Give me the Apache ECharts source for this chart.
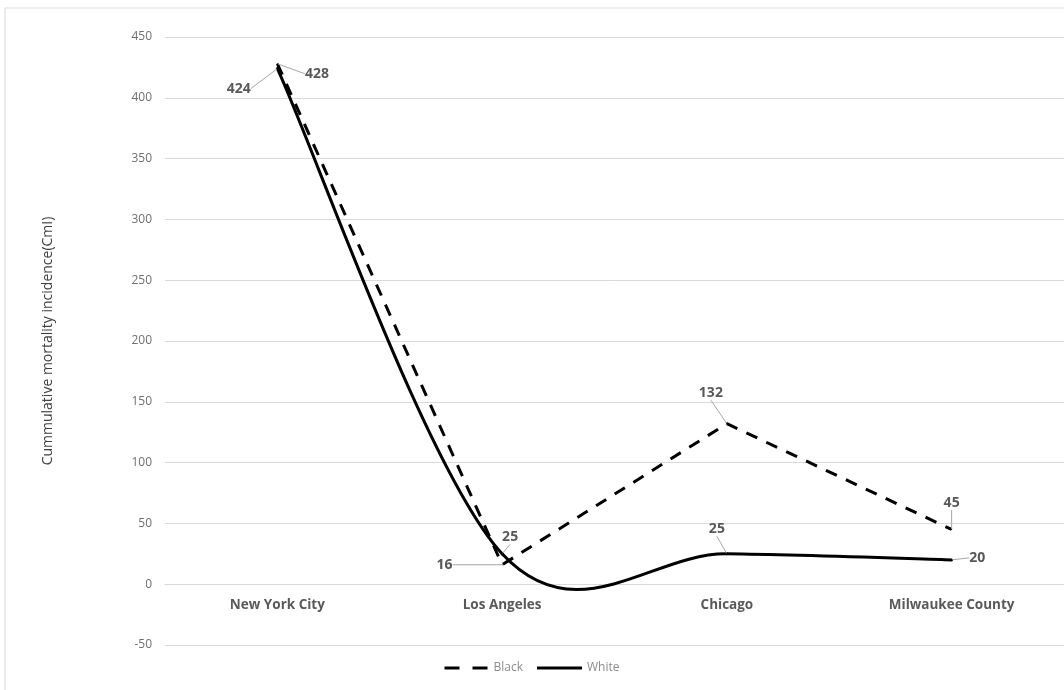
<!DOCTYPE html>
<html>
<head>
<meta charset="utf-8">
<script src="https://cdn.jsdelivr.net/npm/echarts@6/dist/echarts.min.js"></script>
<style>html,body{margin:0;padding:0;background:#fff}#c{width:1064px;height:690px}</style>
</head>
<body>
<div id="c"></div>
<script>
const categories = ['New York City', 'Los Angeles', 'Chicago', 'Milwaukee County'];
const blackValues = [428, 16, 132, 45];
const whiteValues = [424, 25, 25, 20];
const yTicks = [-50, 0, 50, 100, 150, 200, 250, 300, 350, 400, 450];

const blackLabelPos = ['right', 'left', 'top', 'top'];
const blackLabelShift = [[22, 10], [-44, 0], [-16, -18], [0, -14]];
const whiteLabelPos = ['left', 'top', 'top', 'right'];
const whiteLabelShift = [[-21, 20], [8, -4], [-10, -12], [12, -2]];

const GRID_TOP = 37, GRID_BOTTOM = 45, H = 690;
const yMin = yTicks[0], yMax = yTicks[yTicks.length - 1];
const gridH = H - GRID_TOP - GRID_BOTTOM;
const zeroOffset = -gridH * (0 - yMin) / (yMax - yMin);

const chart = echarts.init(document.getElementById('c'));
const FONT = 'Open Sans, Noto Sans, sans-serif';
const labelBase = {show: true, fontFamily: FONT, fontSize: 14, fontWeight: 'bold', color: '#595959'};
function mk(vals, pos) {
  return vals.map((v, i) => ({value: v, label: Object.assign({}, labelBase, {position: pos[i]})}));
}
// Excel-style smoothed curve (Catmull-Rom, 1/6 tangents) drawn from data via axis scales
function renderSmooth(params, api) {
  const i = params.dataIndex;
  const n = whiteValues.length;
  if (i >= n - 1) return null;
  const P = k => { const j = Math.max(0, Math.min(n - 1, k)); return api.coord([j, api.value(1, j)]); };
  const p0 = P(i - 1), p1 = P(i), p2 = P(i + 1), p3 = P(i + 2);
  return {
    type: 'bezierCurve',
    shape: {
      x1: p1[0], y1: p1[1], x2: p2[0], y2: p2[1],
      cpx1: p1[0] + (p2[0] - p0[0]) / 6, cpy1: p1[1] + (p2[1] - p0[1]) / 6,
      cpx2: p2[0] - (p3[0] - p1[0]) / 6, cpy2: p2[1] - (p3[1] - p1[1]) / 6
    },
    style: {stroke: '#000', lineWidth: 3, fill: null, lineCap: 'round'}
  };
}
chart.setOption({
  animation: false,
  graphic: [{type: 'rect', shape: {x: 5, y: 8, width: 1100, height: 700}, style: {fill: 'none', stroke: '#d9d9d9', lineWidth: 1}, silent: true, z: -1}],
  grid: {left: 165, right: 0, top: GRID_TOP, bottom: GRID_BOTTOM, containLabel: false},
  legend: {
    bottom: 11, left: 'center', itemWidth: 45, itemHeight: 3, itemGap: 14,
    textStyle: {color: '#8c8c8c', fontSize: 12, fontFamily: FONT},
    data: [
      {name: 'Black', icon: 'path://M0,0h15v3h-15z M28,0h15v3h-15z'},
      {name: 'White', icon: 'path://M0,0h45v3h-45z'}
    ]
  },
  xAxis: {
    type: 'category', data: categories, boundaryGap: true, offset: zeroOffset,
    axisLine: {onZero: false, lineStyle: {color: '#d9d9d9'}}, axisTick: {show: false},
    axisLabel: {color: '#595959', fontWeight: 'bold', fontSize: 13.5, margin: 14, fontFamily: FONT}
  },
  yAxis: {
    type: 'value', min: yMin, max: yMax, interval: 50,
    name: 'Cummulative mortality incidence(CmI)', nameLocation: 'middle', nameGap: 110,
    nameTextStyle: {color: '#404040', fontSize: 14, fontFamily: FONT},
    axisLine: {show: false}, axisTick: {show: false},
    axisLabel: {color: '#6f6f6f', fontSize: 12, margin: 13, fontFamily: FONT},
    splitLine: {lineStyle: {color: '#d9d9d9'}}
  },
  series: [
    {
      name: 'Black', type: 'line', data: mk(blackValues, blackLabelPos),
      symbol: 'circle', symbolSize: 1, itemStyle: {color: '#000'},
      lineStyle: {color: '#000', width: 3, type: [12, 10]},
      labelLine: {show: true, lineStyle: {color: '#a6a6a6', width: 1}},
      labelLayout: p => ({dx: blackLabelShift[p.dataIndex][0], dy: blackLabelShift[p.dataIndex][1]})
    },
    {
      name: 'White', type: 'line', data: mk(whiteValues, whiteLabelPos),
      symbol: 'circle', symbolSize: 1, itemStyle: {color: '#000'},
      lineStyle: {opacity: 0},
      labelLine: {show: true, lineStyle: {color: '#a6a6a6', width: 1}},
      labelLayout: p => ({dx: whiteLabelShift[p.dataIndex][0], dy: whiteLabelShift[p.dataIndex][1]})
    },
    {
      name: 'White curve', type: 'custom', data: whiteValues.map((v, i) => [i, v]),
      encode: {x: 0, y: 1}, renderItem: renderSmooth, clip: false, silent: true
    }
  ]
});
</script>
</body>
</html>
